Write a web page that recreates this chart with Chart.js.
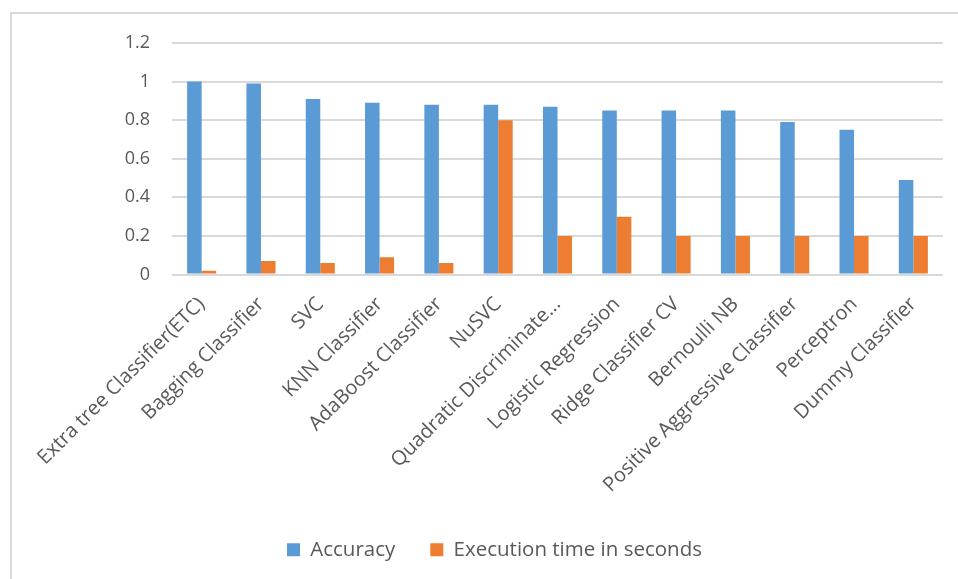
<!DOCTYPE html>
<html>
<head>
<meta charset="utf-8">
<script src="https://cdn.jsdelivr.net/npm/chart.js@4"></script>
<style>
  html, body { margin: 0; padding: 0; background: #fff; }
  #wrap { position: relative; width: 958px; height: 579px; }
  #frame { position: absolute; left: 10px; top: 12px; right: 0; bottom: 0;
           border-left: 2px solid #d9d9d9; border-top: 2px solid #d9d9d9; pointer-events: none; }
  canvas { position: absolute; left: 0; top: 0; }
</style>
</head>
<body>
<div id="wrap">
  <canvas id="chart" width="958" height="579"></canvas>
  <div id="frame"></div>
</div>
<script>
// Classifiers compared
const categories = [
  'Extra tree Classifier(ETC)', 'Bagging Classifier', 'SVC', 'KNN Classifier',
  'AdaBoost Classifier', 'NuSVC', 'Quadratic Discriminate...', 'Logistic Regression',
  'Ridge Classifier CV', 'Bernoulli NB', 'Positive Aggressive Classifier',
  'Perceptron', 'Dummy Classifier'
];
const accuracy = [1.00, 0.99, 0.91, 0.89, 0.88, 0.88, 0.87, 0.85, 0.85, 0.85, 0.79, 0.75, 0.49];
const executionTime = [0.02, 0.07, 0.06, 0.09, 0.06, 0.80, 0.20, 0.30, 0.20, 0.20, 0.20, 0.20, 0.20];
const yTicks = [0, 0.2, 0.4, 0.6, 0.8, 1, 1.2];

const FONT = '"Open Sans", Lato, sans-serif';
const TEXT = '#595959';
const GRID = '#d9d9d9';

new Chart(document.getElementById('chart'), {
  type: 'bar',
  data: {
    labels: categories,
    datasets: [
      { label: 'Accuracy', data: accuracy, backgroundColor: '#5b9bd5' },
      { label: 'Execution time in seconds', data: executionTime, backgroundColor: '#ed7d31' }
    ]
  },
  options: {
    responsive: false,
    animation: false,
    devicePixelRatio: 1,
    layout: { padding: { left: 46, right: 15, top: 43, bottom: 9 } },
    datasets: { bar: { categoryPercentage: 0.49, barPercentage: 1.0 } },
    plugins: {
      tooltip: { enabled: false },
      legend: {
        position: 'bottom',
        labels: {
          font: { family: FONT, size: 20.5 },
          color: TEXT,
          boxWidth: 13,
          boxHeight: 13,
          padding: 35
        }
      }
    },
    scales: {
      x: {
        grid: { display: false },
        border: { display: false },
        ticks: {
          font: { family: FONT, size: 20 },
          color: TEXT,
          minRotation: 45,
          maxRotation: 45,
          autoSkip: false,
          padding: 10
        },
        afterFit(scale) { scale.height = 230; }
      },
      y: {
        min: 0,
        max: 1.2,
        afterBuildTicks(scale) { scale.ticks = yTicks.map(v => ({ value: v })); },
        grid: { color: GRID, lineWidth: 2, drawTicks: false },
        border: { display: false },
        ticks: {
          font: { family: FONT, size: 18 },
          color: TEXT,
          padding: 22,
          callback: v => String(v)
        },
        afterFit(scale) { scale.width = 126; }
      }
    }
  }
});
</script>
</body>
</html>
